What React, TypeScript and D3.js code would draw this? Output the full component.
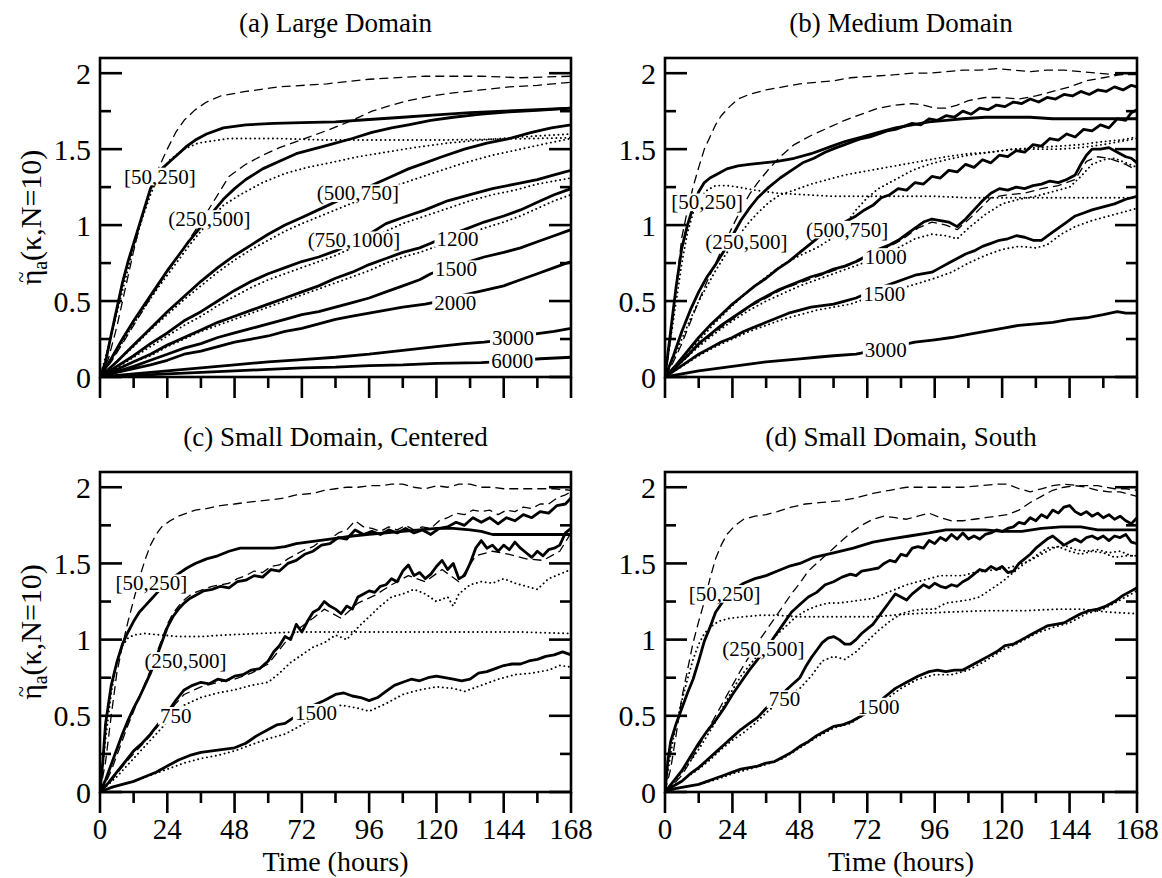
import React from 'react';
import * as d3 from 'd3';

// axis ticks, shared by the four panels
const hoursMajor = [0, 24, 48, 72, 96, 120, 144, 168];
const hoursMinor = [12, 36, 60, 84, 108, 132, 156];
const etaMajor = [0, 0.5, 1, 1.5, 2];
const etaMinor = [0.25, 0.75, 1.25, 1.75];
const etaTickLabels = ['0', '0.5', '1', '1.5', '2'];

// ---- (a) Large Domain : [hour, eta]
const aSolid50 = [[0,0],[2,0.1],[4,0.28],[6,0.45],[8,0.62],[10,0.76],[12,0.88],[14,1.0],[16,1.12],[18,1.24],[20,1.31],[22,1.37],[25,1.42],[28,1.47],[31,1.52],[34,1.56],[38,1.6],[44,1.64],[52,1.66],[62,1.67],[72,1.675],[84,1.68],[96,1.695],[108,1.71],[120,1.725],[132,1.74],[144,1.75],[156,1.76],[168,1.77]];
const aDash50 = [[0,0],[3,0.12],[6,0.33],[9,0.58],[12,0.83],[15,1.06],[18,1.24],[21,1.38],[24,1.5],[27,1.61],[30,1.69],[34,1.76],[38,1.81],[43,1.85],[52,1.88],[64,1.91],[81,1.93],[96,1.96],[116,1.98],[136,1.98],[150,1.97],[168,1.98]];
const aDot50 = [[0,0],[3,0.2],[6,0.42],[9,0.64],[12,0.85],[15,1.04],[18,1.2],[21,1.33],[25,1.43],[30,1.5],[35,1.54],[46,1.57],[64,1.57],[81,1.56],[100,1.56],[120,1.56],[140,1.565],[168,1.575]];
const aSolid250 = [[0,0],[4,0.12],[8,0.25],[12,0.37],[16,0.48],[20,0.59],[24,0.7],[28,0.8],[32,0.9],[36,0.99],[40,1.08],[44,1.17],[48,1.24],[52,1.3],[58,1.37],[64,1.42],[70,1.47],[76,1.5],[82,1.53],[90,1.57],[97,1.61],[104,1.64],[110,1.66],[118,1.69],[126,1.71],[136,1.73],[146,1.745],[156,1.755],[168,1.77]];
const aDash250 = [[0,0],[4,0.1],[8,0.22],[12,0.34],[16,0.46],[20,0.58],[24,0.69],[28,0.8],[32,0.91],[36,1.02],[40,1.14],[46,1.32],[52,1.4],[58,1.46],[64,1.51],[70,1.55],[76,1.59],[82,1.63],[90,1.69],[97,1.75],[104,1.79],[110,1.82],[118,1.85],[126,1.87],[136,1.89],[146,1.91],[156,1.92],[168,1.94]];
const aDot250 = [[0,0],[4,0.11],[8,0.23],[12,0.35],[16,0.46],[20,0.57],[24,0.67],[28,0.77],[32,0.87],[36,0.96],[40,1.05],[44,1.13],[50,1.2],[58,1.28],[66,1.34],[74,1.38],[82,1.41],[92,1.45],[102,1.48],[112,1.51],[124,1.54],[136,1.56],[150,1.58],[168,1.6]];
const aSolid500 = [[0,0],[6,0.1],[12,0.21],[18,0.32],[24,0.43],[30,0.53],[36,0.63],[42,0.72],[48,0.8],[54,0.87],[60,0.94],[66,1.0],[72,1.05],[79,1.11],[86,1.17],[92,1.22],[98,1.27],[104,1.32],[110,1.37],[116,1.41],[122,1.45],[130,1.5],[138,1.54],[146,1.57],[154,1.61],[161,1.64],[168,1.66]];
const aDot500 = [[0,0],[6,0.1],[12,0.2],[18,0.31],[24,0.41],[30,0.51],[36,0.6],[42,0.69],[48,0.77],[54,0.84],[60,0.9],[66,0.96],[72,1.01],[80,1.07],[88,1.13],[96,1.19],[104,1.25],[112,1.3],[120,1.35],[130,1.41],[140,1.46],[150,1.5],[160,1.54],[168,1.57]];
const aSolid750 = [[0,0],[6,0.07],[12,0.14],[18,0.22],[24,0.29],[30,0.37],[36,0.43],[42,0.5],[48,0.57],[54,0.63],[60,0.68],[66,0.72],[72,0.76],[78,0.79],[84,0.83],[90,0.88],[96,0.94],[102,1.01],[108,1.05],[116,1.1],[124,1.16],[132,1.2],[140,1.24],[148,1.27],[156,1.3],[162,1.33],[168,1.36]];
const aDot750 = [[0,0],[6,0.06],[12,0.13],[18,0.2],[24,0.27],[30,0.34],[36,0.4],[42,0.47],[48,0.53],[54,0.59],[60,0.64],[66,0.68],[72,0.72],[78,0.76],[84,0.8],[90,0.85],[96,0.9],[102,0.96],[108,1.01],[116,1.06],[124,1.11],[132,1.16],[140,1.2],[148,1.23],[156,1.27],[162,1.29],[168,1.31]];
const aSolid1200 = [[0,0],[6,0.05],[12,0.1],[18,0.15],[24,0.21],[30,0.26],[36,0.31],[42,0.36],[48,0.4],[54,0.44],[60,0.48],[66,0.52],[72,0.56],[78,0.6],[84,0.65],[90,0.69],[96,0.74],[102,0.78],[108,0.82],[114,0.85],[118,0.88],[124,0.93],[130,0.97],[137,1.02],[144,1.06],[150,1.1],[156,1.15],[162,1.2],[168,1.24]];
const aDot1200 = [[0,0],[6,0.05],[12,0.1],[18,0.14],[24,0.2],[30,0.25],[36,0.3],[42,0.34],[48,0.38],[54,0.42],[60,0.46],[66,0.5],[72,0.54],[78,0.58],[84,0.62],[90,0.66],[96,0.7],[102,0.75],[108,0.79],[114,0.82],[120,0.86],[128,0.92],[137,0.98],[144,1.02],[150,1.06],[156,1.11],[162,1.16],[168,1.2]];
const aSolid1500 = [[0,0],[6,0.035],[12,0.07],[18,0.11],[24,0.15],[30,0.19],[36,0.22],[42,0.26],[48,0.29],[54,0.32],[60,0.35],[66,0.38],[72,0.41],[78,0.43],[84,0.46],[90,0.49],[96,0.52],[102,0.56],[108,0.6],[114,0.64],[118,0.68],[124,0.72],[130,0.75],[137,0.79],[144,0.82],[150,0.85],[156,0.89],[162,0.93],[168,0.97]];
const aSolid2000 = [[0,0],[6,0.03],[12,0.055],[18,0.08],[24,0.11],[30,0.15],[36,0.17],[42,0.2],[48,0.23],[54,0.25],[60,0.27],[66,0.3],[72,0.32],[78,0.35],[84,0.38],[90,0.4],[96,0.42],[102,0.44],[108,0.46],[116,0.48],[124,0.51],[130,0.54],[137,0.57],[144,0.6],[150,0.64],[156,0.68],[162,0.72],[168,0.76]];
const aSolid3000 = [[0,0],[12,0.02],[24,0.04],[36,0.06],[48,0.08],[60,0.1],[72,0.115],[84,0.13],[96,0.15],[108,0.175],[120,0.2],[130,0.22],[137,0.23],[146,0.25],[156,0.285],[162,0.3],[168,0.32]];
const aSolid6000 = [[0,0],[12,0.01],[24,0.02],[36,0.03],[48,0.04],[60,0.05],[72,0.06],[84,0.065],[96,0.075],[108,0.08],[120,0.09],[136,0.095],[146,0.105],[157,0.12],[168,0.13]];
const aLabels = [['[50,250]', 21.4, 1.32], ['(250,500]', 39, 1.04], ['(500,750]', 92, 1.21], ['(750,1000]', 90.6, 0.9], ['1200', 127.5, 0.91], ['1500', 127, 0.71], ['2000', 126.7, 0.49], ['3000', 147.3, 0.255], ['6000', 147, 0.105]];

// ---- (b) Medium Domain
const bDash50 = [[0,0],[2,0.25],[4,0.6],[6,0.92],[8,1.1],[10,1.25],[12,1.38],[14,1.5],[16,1.58],[18,1.66],[20,1.72],[23,1.78],[26,1.83],[30,1.86],[36,1.89],[42,1.91],[48,1.93],[54,1.94],[60,1.95],[66,1.97],[74,1.98],[82,1.99],[88,2.0],[94,2.0],[100,2.01],[106,2.02],[112,2.02],[118,2.03],[124,2.02],[130,2.01],[136,2.02],[142,2.02],[148,2.01],[154,2.0],[160,1.99],[168,1.99]];
const bSolid50 = [[0,0],[2,0.3],[4,0.6],[6,0.85],[8,1.0],[10,1.12],[12,1.22],[14,1.28],[16,1.31],[19,1.34],[22,1.37],[26,1.39],[30,1.4],[35,1.41],[40,1.42],[46,1.44],[52,1.47],[58,1.51],[64,1.55],[70,1.58],[76,1.61],[82,1.64],[88,1.66],[94,1.68],[100,1.69],[106,1.7],[114,1.71],[122,1.71],[130,1.71],[138,1.7],[146,1.7],[154,1.7],[162,1.7],[168,1.7]];
const bDot50 = [[0,0],[2,0.25],[4,0.5],[6,0.75],[8,0.95],[10,1.08],[12,1.17],[15,1.23],[18,1.26],[22,1.26],[26,1.25],[32,1.23],[40,1.21],[50,1.2],[60,1.19],[72,1.19],[84,1.19],[96,1.19],[108,1.18],[120,1.18],[132,1.18],[144,1.18],[156,1.18],[168,1.18]];
const bSolid250 = [[0,0],[3,0.14],[6,0.3],[9,0.44],[12,0.56],[15,0.66],[18,0.74],[21,0.83],[24,0.93],[27,1.03],[30,1.11],[33,1.18],[37,1.25],[41,1.31],[45,1.36],[49,1.41],[53,1.44],[57,1.48],[61,1.51],[64,1.53],[67,1.55],[70,1.57],[73,1.58],[76,1.6],[79,1.62],[82,1.63],[85,1.65],[88,1.67],[91,1.66],[94,1.7],[97,1.69],[100,1.72],[103,1.71],[106,1.75],[109,1.73],[112,1.77],[115,1.76],[118,1.79],[121,1.78],[124,1.81],[127,1.8],[130,1.83],[133,1.81],[136,1.84],[139,1.83],[142,1.86],[145,1.85],[148,1.88],[151,1.86],[154,1.89],[157,1.88],[160,1.91],[163,1.89],[166,1.92],[168,1.91]];
const bDash250 = [[0,0],[3,0.1],[6,0.22],[9,0.36],[12,0.5],[15,0.63],[18,0.75],[21,0.87],[24,0.99],[27,1.1],[30,1.2],[33,1.28],[37,1.37],[41,1.45],[46,1.53],[52,1.59],[58,1.64],[64,1.69],[70,1.73],[76,1.77],[82,1.79],[88,1.8],[92,1.79],[96,1.77],[100,1.77],[104,1.79],[108,1.82],[114,1.84],[120,1.84],[126,1.83],[132,1.85],[138,1.88],[144,1.91],[150,1.95],[156,1.97],[162,1.99],[168,2.0]];
const bDot250 = [[0,0],[3,0.12],[6,0.25],[9,0.38],[12,0.5],[15,0.6],[18,0.7],[21,0.79],[24,0.87],[27,0.95],[30,1.02],[33,1.08],[37,1.15],[41,1.2],[46,1.23],[52,1.27],[58,1.3],[64,1.33],[70,1.35],[76,1.37],[82,1.39],[88,1.41],[94,1.43],[100,1.45],[108,1.47],[116,1.48],[124,1.5],[132,1.5],[140,1.5],[148,1.51],[156,1.53],[162,1.55],[168,1.57]];
const bSolid500 = [[0,0],[4,0.08],[8,0.17],[12,0.26],[16,0.34],[20,0.41],[24,0.48],[28,0.54],[32,0.6],[36,0.65],[40,0.71],[44,0.76],[48,0.82],[52,0.88],[56,0.94],[60,0.98],[64,1.02],[68,1.06],[71,1.1],[74,1.13],[77,1.18],[80,1.2],[83,1.24],[86,1.23],[89,1.28],[92,1.27],[95,1.32],[98,1.31],[101,1.36],[104,1.35],[107,1.4],[110,1.38],[113,1.43],[116,1.41],[119,1.46],[122,1.45],[125,1.49],[128,1.48],[131,1.53],[134,1.52],[137,1.57],[140,1.56],[143,1.6],[146,1.58],[149,1.63],[152,1.62],[155,1.66],[158,1.64],[161,1.7],[164,1.69],[166,1.74],[168,1.76]];
const bDot500 = [[0,0],[6,0.12],[12,0.24],[18,0.36],[24,0.47],[30,0.57],[36,0.66],[42,0.74],[48,0.8],[54,0.85],[60,0.92],[64,1.0],[68,1.1],[72,1.18],[76,1.24],[82,1.3],[88,1.36],[94,1.4],[100,1.43],[108,1.46],[116,1.48],[124,1.5],[132,1.51],[140,1.52],[148,1.53],[156,1.55],[162,1.56],[168,1.58]];
const bSolid1000 = [[0,0],[4,0.07],[8,0.14],[12,0.22],[16,0.28],[20,0.34],[24,0.39],[28,0.44],[32,0.49],[36,0.53],[40,0.57],[44,0.6],[48,0.63],[52,0.66],[56,0.68],[60,0.71],[64,0.73],[68,0.76],[72,0.8],[76,0.84],[80,0.87],[83,0.9],[86,0.94],[89,0.98],[92,1.02],[95,1.04],[98,1.03],[101,1.02],[104,0.99],[107,1.04],[110,1.1],[113,1.16],[116,1.21],[119,1.24],[122,1.23],[125,1.25],[128,1.24],[131,1.26],[134,1.27],[137,1.29],[140,1.28],[143,1.3],[146,1.33],[148,1.4],[150,1.46],[152,1.5],[155,1.5],[158,1.51],[161,1.48],[164,1.45],[166,1.44],[168,1.41]];
const bDash1000 = [[0,0],[6,0.1],[12,0.21],[18,0.3],[24,0.38],[30,0.46],[36,0.52],[42,0.58],[48,0.62],[54,0.66],[60,0.7],[66,0.74],[72,0.79],[78,0.84],[84,0.9],[90,0.98],[95,1.02],[100,1.0],[104,0.97],[110,1.07],[116,1.18],[122,1.2],[128,1.21],[134,1.24],[140,1.26],[146,1.3],[150,1.42],[154,1.45],[158,1.44],[164,1.4],[168,1.36]];
const bDot1000 = [[0,0],[6,0.1],[12,0.2],[18,0.29],[24,0.37],[30,0.44],[36,0.5],[42,0.55],[48,0.6],[54,0.64],[60,0.68],[66,0.72],[72,0.76],[78,0.8],[83,0.85],[89,0.91],[95,0.94],[100,0.93],[104,0.91],[108,0.98],[114,1.07],[120,1.14],[126,1.17],[132,1.19],[138,1.22],[144,1.25],[148,1.32],[152,1.4],[156,1.43],[160,1.44],[164,1.41],[168,1.38]];
const bSolid1500 = [[0,0],[4,0.05],[8,0.1],[12,0.15],[16,0.19],[20,0.23],[24,0.26],[28,0.3],[32,0.33],[36,0.36],[40,0.39],[44,0.42],[48,0.44],[52,0.46],[56,0.47],[60,0.48],[64,0.5],[68,0.52],[74,0.57],[80,0.61],[86,0.65],[89,0.67],[92,0.68],[95,0.69],[98,0.72],[101,0.75],[104,0.78],[107,0.81],[110,0.83],[113,0.86],[116,0.88],[119,0.9],[122,0.91],[125,0.93],[128,0.92],[131,0.9],[134,0.9],[137,0.94],[140,0.98],[143,1.02],[146,1.06],[149,1.08],[152,1.1],[156,1.12],[160,1.14],[164,1.17],[168,1.19]];
const bDot1500 = [[0,0],[6,0.07],[12,0.14],[18,0.2],[24,0.25],[30,0.3],[36,0.34],[42,0.38],[48,0.41],[54,0.44],[60,0.46],[66,0.48],[72,0.52],[80,0.56],[89,0.61],[96,0.65],[102,0.69],[108,0.75],[114,0.8],[120,0.84],[126,0.86],[132,0.85],[136,0.87],[141,0.94],[146,0.99],[152,1.03],[158,1.06],[164,1.09],[168,1.11]];
const bSolid3000 = [[0,0],[6,0.02],[12,0.04],[18,0.055],[24,0.07],[30,0.085],[36,0.1],[42,0.11],[48,0.12],[54,0.13],[60,0.14],[68,0.15],[76,0.18],[84,0.21],[89,0.23],[96,0.245],[102,0.26],[108,0.28],[114,0.3],[120,0.32],[126,0.34],[132,0.35],[138,0.36],[144,0.38],[150,0.39],[156,0.41],[161,0.43],[164,0.42],[168,0.42]];
const bLabels = [['[50,250]', 15, 1.15], ['(250,500]', 29, 0.89], ['(500,750]', 64.8, 0.97], ['1000', 78.6, 0.79], ['1500', 78, 0.55], ['3000', 78.6, 0.18]];

// ---- (c) Small Domain, Centered
const cDash50 = [[0,0],[2,0.2],[4,0.5],[6,0.78],[8,0.96],[10,1.12],[12,1.26],[14,1.4],[16,1.52],[18,1.62],[20,1.69],[22,1.74],[25,1.78],[28,1.81],[31,1.83],[34,1.85],[38,1.86],[43,1.88],[48,1.89],[52,1.9],[57,1.91],[62,1.92],[66,1.93],[70,1.95],[76,1.96],[80,1.98],[84,1.99],[88,2.0],[92,2.0],[96,2.01],[100,2.01],[104,2.02],[108,2.02],[112,2.0],[116,1.99],[120,2.01],[124,2.0],[128,2.02],[132,2.02],[136,2.0],[140,2.0],[144,1.99],[150,1.99],[156,1.99],[162,1.99],[168,1.98]];
const cSolid50 = [[0,0],[1,0.2],[2,0.45],[4,0.7],[6,0.85],[8,0.97],[10,1.05],[12,1.12],[14,1.18],[16,1.22],[18,1.26],[20,1.3],[23,1.36],[27,1.42],[31,1.47],[34,1.5],[38,1.53],[42,1.55],[46,1.58],[50,1.6],[54,1.6],[58,1.6],[62,1.6],[66,1.61],[70,1.63],[74,1.64],[78,1.65],[82,1.66],[86,1.67],[90,1.68],[96,1.69],[102,1.7],[108,1.71],[114,1.72],[120,1.73],[126,1.73],[132,1.72],[136,1.71],[140,1.69],[146,1.69],[152,1.69],[158,1.69],[164,1.69],[168,1.69]];
const cDot50 = [[0,0],[2,0.35],[4,0.65],[6,0.85],[8,0.96],[10,1.01],[12,1.03],[16,1.04],[22,1.03],[28,1.02],[36,1.02],[44,1.03],[56,1.04],[70,1.05],[84,1.05],[100,1.05],[116,1.05],[132,1.05],[150,1.05],[168,1.04]];
const cSolid250 = [[0,0],[2,0.08],[4,0.18],[6,0.28],[8,0.38],[10,0.47],[12,0.55],[14,0.62],[16,0.7],[18,0.78],[20,0.88],[22,0.98],[24,1.08],[26,1.15],[28,1.2],[30,1.24],[32,1.27],[34,1.29],[37,1.32],[40,1.33],[43,1.35],[46,1.34],[49,1.38],[52,1.39],[55,1.42],[58,1.41],[61,1.46],[64,1.45],[67,1.5],[70,1.52],[73,1.56],[76,1.58],[79,1.62],[82,1.63],[85,1.67],[88,1.66],[91,1.72],[94,1.69],[97,1.71],[100,1.69],[103,1.72],[106,1.7],[109,1.73],[112,1.7],[115,1.72],[118,1.69],[121,1.73],[124,1.74],[127,1.77],[130,1.75],[133,1.8],[136,1.77],[139,1.8],[142,1.76],[145,1.8],[148,1.78],[151,1.82],[154,1.8],[157,1.84],[160,1.83],[163,1.88],[166,1.89],[168,1.93]];
const cDash250 = [[0,0],[2,0.06],[4,0.14],[6,0.24],[8,0.34],[10,0.44],[12,0.53],[14,0.62],[16,0.71],[18,0.8],[20,0.9],[22,1.0],[24,1.1],[26,1.17],[28,1.22],[30,1.26],[32,1.29],[34,1.31],[37,1.33],[40,1.35],[43,1.36],[46,1.37],[49,1.4],[52,1.42],[55,1.45],[58,1.44],[61,1.48],[64,1.49],[67,1.53],[70,1.56],[73,1.59],[76,1.61],[79,1.65],[82,1.66],[85,1.7],[88,1.72],[91,1.78],[94,1.74],[97,1.73],[100,1.71],[103,1.74],[106,1.72],[109,1.75],[112,1.72],[115,1.74],[118,1.73],[121,1.78],[124,1.8],[127,1.83],[130,1.82],[133,1.85],[136,1.84],[139,1.85],[142,1.82],[145,1.85],[148,1.84],[151,1.87],[154,1.86],[157,1.89],[160,1.89],[163,1.93],[166,1.95],[168,1.97]];
const cSolid750 = [[0,0],[3,0.06],[6,0.13],[9,0.2],[12,0.27],[15,0.32],[18,0.38],[21,0.45],[24,0.52],[27,0.6],[30,0.67],[33,0.7],[36,0.72],[39,0.71],[42,0.74],[45,0.73],[48,0.76],[51,0.77],[54,0.8],[57,0.81],[60,0.86],[62,0.92],[64,0.96],[66,1.02],[68,1.0],[70,1.1],[72,1.05],[74,1.12],[76,1.18],[78,1.2],[80,1.25],[82,1.22],[84,1.2],[86,1.17],[88,1.22],[90,1.2],[92,1.28],[94,1.3],[96,1.32],[98,1.31],[100,1.35],[102,1.36],[104,1.4],[106,1.38],[108,1.45],[110,1.49],[112,1.42],[114,1.44],[116,1.4],[118,1.43],[120,1.48],[122,1.52],[124,1.46],[126,1.5],[128,1.4],[130,1.42],[132,1.5],[134,1.6],[136,1.65],[138,1.6],[140,1.62],[142,1.58],[144,1.62],[146,1.59],[148,1.64],[150,1.6],[152,1.57],[154,1.54],[156,1.58],[158,1.55],[160,1.59],[162,1.6],[164,1.62],[166,1.7],[168,1.73]];
const cDash750 = [[0,0],[3,0.05],[6,0.12],[9,0.19],[12,0.25],[15,0.31],[18,0.37],[21,0.44],[24,0.51],[27,0.58],[30,0.64],[36,0.69],[42,0.72],[48,0.74],[54,0.78],[60,0.84],[66,0.98],[70,1.06],[76,1.14],[80,1.2],[86,1.14],[92,1.24],[98,1.29],[104,1.36],[110,1.42],[116,1.38],[122,1.46],[128,1.38],[134,1.55],[140,1.58],[146,1.56],[152,1.53],[158,1.52],[164,1.58],[168,1.7]];
const cDot750 = [[0,0],[3,0.05],[6,0.1],[9,0.16],[12,0.22],[15,0.28],[18,0.34],[21,0.4],[24,0.46],[27,0.52],[30,0.57],[36,0.62],[42,0.65],[48,0.67],[54,0.7],[60,0.72],[64,0.78],[68,0.85],[72,0.9],[76,0.95],[80,0.98],[84,1.03],[88,1.0],[92,1.08],[96,1.15],[100,1.22],[104,1.28],[108,1.3],[112,1.33],[116,1.3],[120,1.25],[124,1.28],[126,1.22],[128,1.3],[132,1.36],[136,1.38],[140,1.37],[144,1.4],[148,1.37],[152,1.35],[156,1.33],[160,1.4],[164,1.43],[168,1.46]];
const cSolid1500 = [[0,0],[4,0.03],[8,0.05],[12,0.07],[16,0.1],[20,0.13],[24,0.17],[28,0.21],[32,0.24],[36,0.26],[40,0.27],[44,0.28],[48,0.29],[52,0.32],[56,0.37],[60,0.41],[63,0.44],[66,0.45],[70,0.5],[75,0.56],[80,0.6],[84,0.64],[87,0.65],[90,0.63],[93,0.62],[96,0.6],[99,0.62],[102,0.66],[105,0.7],[108,0.72],[111,0.74],[114,0.73],[117,0.75],[120,0.76],[123,0.75],[126,0.74],[129,0.73],[132,0.74],[135,0.78],[138,0.79],[141,0.81],[144,0.83],[147,0.84],[150,0.84],[153,0.86],[156,0.87],[159,0.89],[162,0.9],[165,0.92],[168,0.9]];
const cDot1500 = [[0,0],[6,0.04],[12,0.07],[18,0.11],[24,0.15],[30,0.19],[36,0.22],[42,0.24],[48,0.27],[54,0.31],[60,0.35],[66,0.38],[72,0.44],[80,0.52],[86,0.57],[92,0.55],[96,0.53],[102,0.58],[108,0.64],[114,0.67],[120,0.69],[126,0.68],[130,0.66],[136,0.7],[142,0.74],[148,0.77],[154,0.78],[160,0.8],[164,0.83],[168,0.82]];
const cLabels = [['[50,250]', 18.3, 1.37], ['(250,500]', 30.5, 0.86], ['750', 27, 0.5], ['1500', 77, 0.52]];

// ---- (d) Small Domain, South
const dDash50 = [[0,0],[2,0.15],[4,0.38],[6,0.62],[8,0.8],[10,0.98],[12,1.12],[14,1.25],[16,1.4],[18,1.53],[20,1.62],[22,1.69],[25,1.75],[28,1.79],[32,1.81],[36,1.82],[40,1.84],[45,1.87],[50,1.89],[56,1.9],[62,1.91],[68,1.93],[74,1.96],[80,1.98],[86,2.0],[92,2.0],[100,2.0],[106,2.0],[112,2.01],[118,2.02],[122,2.02],[126,1.99],[130,1.97],[134,1.99],[138,2.01],[142,2.02],[148,2.01],[154,2.01],[160,1.99],[164,1.99],[168,1.98]];
const dSolid50 = [[0,0],[1,0.2],[2,0.33],[4,0.45],[6,0.55],[8,0.65],[10,0.74],[12,0.86],[14,0.99],[16,1.08],[18,1.18],[21,1.26],[24,1.32],[28,1.37],[32,1.4],[36,1.42],[40,1.45],[44,1.48],[48,1.5],[53,1.54],[60,1.57],[67,1.6],[74,1.64],[80,1.66],[87,1.68],[94,1.7],[100,1.72],[107,1.72],[114,1.72],[120,1.71],[127,1.71],[134,1.73],[141,1.74],[148,1.74],[154,1.72],[160,1.72],[168,1.72]];
const dDot50 = [[0,0],[2,0.25],[4,0.45],[6,0.6],[8,0.74],[10,0.87],[12,0.97],[14,1.04],[16,1.08],[19,1.12],[23,1.14],[28,1.15],[34,1.16],[40,1.16],[48,1.15],[60,1.15],[74,1.15],[88,1.17],[100,1.18],[114,1.19],[128,1.19],[140,1.2],[148,1.2],[158,1.18],[168,1.17]];
const dSolid250 = [[0,0],[3,0.07],[6,0.14],[9,0.23],[12,0.32],[15,0.4],[18,0.47],[21,0.55],[24,0.64],[27,0.72],[30,0.8],[33,0.87],[36,0.94],[39,1.02],[42,1.1],[45,1.18],[48,1.23],[51,1.28],[54,1.31],[57,1.36],[60,1.38],[63,1.41],[66,1.43],[68,1.42],[70,1.45],[73,1.46],[76,1.47],[78,1.5],[80,1.52],[82,1.51],[84,1.56],[86,1.55],[88,1.6],[90,1.61],[92,1.6],[94,1.65],[96,1.63],[98,1.67],[100,1.65],[102,1.69],[104,1.66],[106,1.7],[108,1.66],[110,1.68],[112,1.66],[114,1.69],[116,1.7],[118,1.72],[120,1.71],[122,1.73],[124,1.74],[126,1.77],[128,1.76],[130,1.8],[132,1.78],[134,1.82],[136,1.8],[138,1.85],[140,1.83],[142,1.87],[144,1.88],[146,1.84],[148,1.82],[150,1.84],[152,1.81],[154,1.83],[156,1.8],[158,1.82],[160,1.79],[162,1.81],[164,1.78],[166,1.76],[168,1.8]];
const dDash250 = [[0,0],[3,0.05],[6,0.11],[9,0.2],[12,0.3],[15,0.4],[18,0.5],[21,0.6],[24,0.7],[27,0.8],[30,0.89],[33,0.98],[36,1.06],[39,1.14],[42,1.22],[45,1.3],[48,1.37],[51,1.45],[54,1.5],[57,1.55],[60,1.6],[63,1.65],[66,1.7],[70,1.75],[74,1.79],[78,1.81],[82,1.8],[86,1.79],[90,1.81],[94,1.83],[98,1.8],[102,1.78],[106,1.78],[110,1.79],[114,1.8],[118,1.81],[122,1.82],[126,1.85],[130,1.9],[134,1.94],[138,1.98],[142,2.0],[146,2.01],[150,2.0],[154,1.98],[158,1.97],[162,1.97],[166,1.95],[168,1.94]];
const dDot250 = [[0,0],[3,0.06],[6,0.13],[9,0.2],[12,0.28],[15,0.37],[18,0.46],[21,0.57],[24,0.67],[27,0.76],[30,0.83],[34,0.92],[38,1.0],[42,1.07],[46,1.14],[50,1.19],[54,1.22],[58,1.24],[62,1.24],[66,1.25],[70,1.26],[74,1.27],[78,1.3],[82,1.33],[86,1.36],[90,1.38],[94,1.4],[98,1.42],[102,1.42],[106,1.42],[110,1.44],[114,1.45],[118,1.46],[122,1.47],[126,1.49],[130,1.52],[134,1.56],[138,1.6],[142,1.62],[146,1.59],[150,1.58],[154,1.59],[158,1.57],[162,1.58],[166,1.55],[168,1.55]];
const dSolid750 = [[0,0],[3,0.04],[6,0.07],[9,0.12],[12,0.16],[15,0.21],[18,0.26],[21,0.31],[24,0.36],[27,0.41],[30,0.45],[33,0.49],[36,0.55],[39,0.6],[42,0.65],[45,0.7],[48,0.75],[50,0.82],[52,0.88],[54,0.93],[56,0.98],[58,1.01],[60,1.02],[62,1.0],[64,0.97],[66,0.97],[68,1.0],[70,1.04],[72,1.07],[74,1.1],[76,1.15],[78,1.2],[80,1.25],[82,1.3],[84,1.28],[86,1.26],[88,1.3],[90,1.33],[92,1.36],[94,1.34],[96,1.37],[98,1.35],[100,1.34],[102,1.36],[104,1.35],[106,1.38],[108,1.4],[110,1.43],[112,1.46],[114,1.45],[116,1.48],[118,1.46],[120,1.48],[122,1.44],[124,1.45],[126,1.5],[128,1.53],[130,1.56],[132,1.6],[134,1.63],[136,1.66],[138,1.68],[140,1.65],[142,1.62],[144,1.64],[146,1.66],[148,1.64],[150,1.67],[152,1.68],[154,1.66],[156,1.68],[158,1.65],[160,1.68],[162,1.67],[164,1.69],[166,1.64],[168,1.63]];
const dDot750 = [[0,0],[4,0.05],[8,0.1],[12,0.15],[16,0.21],[20,0.28],[24,0.34],[28,0.39],[32,0.45],[36,0.52],[40,0.58],[44,0.63],[48,0.68],[52,0.76],[56,0.86],[60,0.89],[64,0.87],[68,0.92],[72,0.99],[76,1.06],[80,1.12],[84,1.17],[88,1.19],[92,1.2],[96,1.2],[100,1.24],[104,1.25],[108,1.26],[112,1.28],[116,1.33],[120,1.38],[124,1.44],[128,1.5],[132,1.55],[136,1.6],[140,1.61],[144,1.58],[148,1.56],[152,1.58],[156,1.57],[160,1.54],[164,1.55],[168,1.55]];
const dSolid1500 = [[0,0],[3,0.02],[6,0.03],[9,0.04],[12,0.05],[15,0.07],[18,0.09],[21,0.11],[24,0.13],[27,0.15],[30,0.16],[33,0.17],[36,0.19],[39,0.2],[42,0.23],[45,0.26],[48,0.3],[51,0.33],[54,0.37],[57,0.4],[60,0.43],[63,0.44],[66,0.46],[70,0.5],[74,0.55],[78,0.62],[82,0.68],[86,0.72],[90,0.76],[94,0.79],[97,0.8],[100,0.79],[103,0.8],[106,0.8],[109,0.83],[112,0.86],[115,0.89],[118,0.92],[121,0.96],[124,0.97],[127,1.0],[130,1.03],[133,1.06],[136,1.09],[139,1.1],[142,1.11],[145,1.14],[148,1.17],[151,1.19],[154,1.2],[157,1.22],[160,1.25],[163,1.29],[166,1.32],[168,1.34]];
const dDot1500 = [[0,0],[6,0.03],[12,0.05],[18,0.08],[24,0.12],[30,0.15],[36,0.18],[42,0.22],[48,0.29],[54,0.36],[60,0.42],[66,0.45],[72,0.52],[78,0.6],[84,0.68],[90,0.74],[96,0.77],[102,0.77],[108,0.8],[114,0.86],[120,0.93],[126,0.98],[132,1.04],[138,1.08],[144,1.11],[150,1.17],[156,1.2],[162,1.26],[168,1.32]];
const dLabels = [['[50,250]', 21.2, 1.3], ['(250,500]', 35, 0.94], ['750', 42.5, 0.61], ['1500', 76, 0.56]];

const panels = [
  { id: 'a', title: '(a) Large Domain', left: 100, right: 571, top: 58, bottom: 377, bottomRow: false, leftCol: true,
    lines: [[aDash50,'dash'],[aDot50,'dot'],[aSolid50,'solid'],[aDash250,'dash'],[aDot250,'dot'],[aSolid250,'solid'],
      [aDot500,'dot'],[aSolid500,'solid'],[aDot750,'dot'],[aSolid750,'solid'],[aDot1200,'dot'],[aSolid1200,'solid'],
      [aSolid1500,'solid'],[aSolid2000,'solid'],[aSolid3000,'solid'],[aSolid6000,'solid']],
    labels: aLabels },
  { id: 'b', title: '(b) Medium Domain', left: 665, right: 1137, top: 58, bottom: 377, bottomRow: false, leftCol: false,
    lines: [[bDash50,'dash'],[bDot50,'dot'],[bSolid50,'solid'],[bDash250,'dash'],[bDot250,'dot'],[bSolid250,'solid'],
      [bDot500,'dot'],[bSolid500,'solid'],[bDash1000,'dash'],[bDot1000,'dot'],[bSolid1000,'solid'],
      [bDot1500,'dot'],[bSolid1500,'solid'],[bSolid3000,'solid']],
    labels: bLabels },
  { id: 'c', title: '(c) Small Domain, Centered', left: 100, right: 571, top: 472, bottom: 792, bottomRow: true, leftCol: true,
    lines: [[cDash50,'dash'],[cDot50,'dot'],[cSolid50,'solid'],[cDash250,'dash'],[cSolid250,'solid'],
      [cDash750,'dash'],[cDot750,'dot'],[cSolid750,'solid'],[cDot1500,'dot'],[cSolid1500,'solid']],
    labels: cLabels },
  { id: 'd', title: '(d) Small Domain, South', left: 665, right: 1137, top: 472, bottom: 792, bottomRow: true, leftCol: false,
    lines: [[dDash50,'dash'],[dDot50,'dot'],[dSolid50,'solid'],[dDash250,'dash'],[dDot250,'dot'],[dSolid250,'solid'],
      [dDot750,'dot'],[dSolid750,'solid'],[dDot1500,'dot'],[dSolid1500,'solid']],
    labels: dLabels },
];

const font = '"Liberation Serif", "Times New Roman", Times, serif';

const lineStyle = {
  solid: { w: 2.8, dash: undefined, cap: 'butt' },
  dash: { w: 1.3, dash: '9 5', cap: 'butt' },
  dot: { w: 1.9, dash: '0.1 4.4', cap: 'round' },
};

// rough Times advance widths for the curve labels
function labelWidth(s, size) {
  let w = 0;
  for (const c of s) w += '0123456789'.includes(c) ? 0.5 : c === ',' ? 0.25 : 0.333;
  return w * size;
}

function Panel({ p }) {
  const x = d3.scaleLinear().domain([0, 168]).range([p.left, p.right]);
  const y = d3.scaleLinear().domain([0, 2.1]).range([p.bottom, p.top]);
  const line = d3.line().x(d => x(d[0])).y(d => y(d[1]));
  const labelSize = 21;

  return (
    <g>
      <defs>
        <clipPath id={'clip-' + p.id}>
          <rect x={p.left} y={p.top} width={p.right - p.left} height={p.bottom - p.top} />
        </clipPath>
      </defs>
      <text x={(p.left + p.right) / 2} y={p.top - 26} textAnchor="middle" fontSize={27}>{p.title}</text>

      <g clipPath={`url(#clip-${p.id})`} fill="none" stroke="#000">
        {p.lines.map(([pts, kind], i) => {
          const st = lineStyle[kind];
          return <path key={i} d={line(pts)} strokeWidth={st.w} strokeDasharray={st.dash}
            strokeLinecap={st.cap} strokeLinejoin="round" />;
        })}
      </g>

      {p.labels.map(([txt, t, v], i) => {
        const w = labelWidth(txt, labelSize);
        return (
          <g key={i}>
            <rect x={x(t) - w / 2 - 2} y={y(v) - labelSize * 0.42} width={w + 4} height={labelSize * 0.84} fill="#fff" />
            <text x={x(t)} y={y(v)} dy="0.34em" textAnchor="middle" fontSize={labelSize}>{txt}</text>
          </g>
        );
      })}

      {/* frame and ticks: y ticks point inwards, x ticks hang below */}
      <rect x={p.left} y={p.top} width={p.right - p.left} height={p.bottom - p.top} fill="none" stroke="#000" strokeWidth={2.6} />
      <g stroke="#000" strokeWidth={2.6}>
        {etaMajor.map(v => (
          <g key={'M' + v}>
            <line x1={p.left} x2={p.left + 22} y1={y(v)} y2={y(v)} />
            <line x1={p.right} x2={p.right - 22} y1={y(v)} y2={y(v)} />
          </g>
        ))}
        {etaMinor.map(v => (
          <g key={'m' + v}>
            <line x1={p.left} x2={p.left + 11} y1={y(v)} y2={y(v)} />
            <line x1={p.right} x2={p.right - 11} y1={y(v)} y2={y(v)} />
          </g>
        ))}
        {hoursMajor.map(h => <line key={'H' + h} x1={x(h)} x2={x(h)} y1={p.bottom} y2={p.bottom + 21} />)}
        {hoursMinor.map(h => <line key={'h' + h} x1={x(h)} x2={x(h)} y1={p.bottom} y2={p.bottom + 11} />)}
      </g>

      {etaMajor.map((v, i) => (
        <text key={'yl' + v} x={p.left - 9} y={y(v)} dy="0.35em" textAnchor="end" fontSize={30}>{etaTickLabels[i]}</text>
      ))}
      {p.bottomRow && hoursMajor.map(h => (
        <text key={'xl' + h} x={x(h)} y={p.bottom + 47} textAnchor="middle" fontSize={29}>{h}</text>
      ))}
      {p.bottomRow && (
        <text x={(p.left + p.right) / 2} y={p.bottom + 79} textAnchor="middle" fontSize={28}>Time (hours)</text>
      )}
      {p.leftCol && (
        <text transform={`translate(41,${(p.top + p.bottom) / 2}) rotate(-90)`} textAnchor="middle" fontSize={30}>
          <tspan>η</tspan>
          <tspan dx={-13} dy={-13} fontSize={20}>~</tspan>
          <tspan dx={2} dy={19} fontSize={20}>a</tspan>
          <tspan dy={-6}>(κ,N=10)</tspan>
        </text>
      )}
    </g>
  );
}

export default function App() {
  return (
    <svg width={1162} height={878} style={{ position: 'absolute', left: 0, top: 0, background: '#fff' }}
      fontFamily={font}>
      <rect width={1162} height={878} fill="#fff" />
      {panels.map(p => <Panel key={p.id} p={p} />)}
    </svg>
  );
}
